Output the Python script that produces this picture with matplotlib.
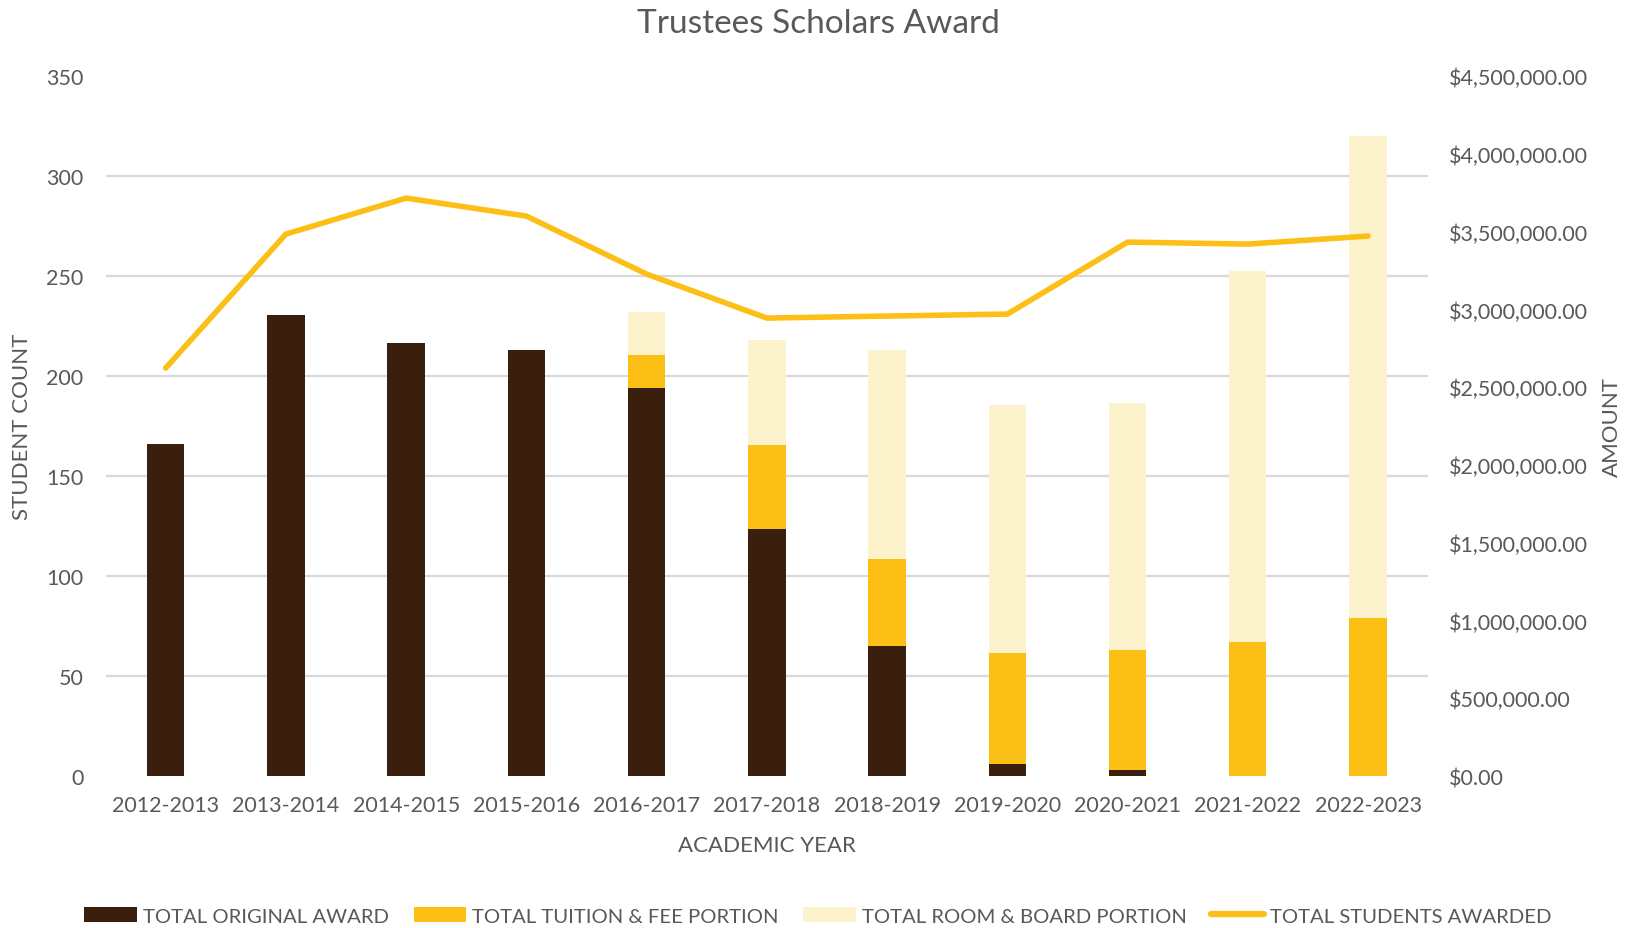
import matplotlib

matplotlib.use('Agg')
import matplotlib.pyplot as plt  # noqa: E402
from matplotlib.ticker import FixedLocator, FuncFormatter, MultipleLocator  # noqa: E402
from matplotlib.lines import Line2D  # noqa: E402
from matplotlib.patches import Patch  # noqa: E402

plt.rcParams['font.family'] = ['Lato', 'DejaVu Sans']

years = ['2012-2013', '2013-2014', '2014-2015', '2015-2016', '2016-2017', '2017-2018',
         '2018-2019', '2019-2020', '2020-2021', '2021-2022', '2022-2023']
original_award = [2132000, 2966000, 2782000, 2737000, 2494000, 1590000,
                  838000, 80000, 37000, 0, 0]
tuition_fee = [0, 0, 0, 0, 210000, 536000, 559000, 709000, 771000, 859000, 1014000]
room_board = [0, 0, 0, 0, 279000, 677000, 1339000, 1599000, 1588000, 2385000, 3099000]
students_awarded = [204, 271, 289, 280, 251, 229, 230, 231, 267, 266, 270]

DARK = '#3A1F0F'
GOLD = '#FBBF16'
PALE = '#FCF2CB'
TEXT = '#595959'
GRID = '#D9D9D9'

AMOUNT_MAX = 4500000
COUNT_MAX = 350
COUNT_STEP = 50

figure = plt.figure(figsize=(16.36, 9.29), dpi=100)
axis = figure.add_axes([0.0645, 0.1636, 0.8085, 0.7534])
positions = list(range(len(years)))
width = 0.31

bottom_tuition = original_award
bottom_room = [a + b for a, b in zip(original_award, tuition_fee)]
axis.bar(positions, original_award, width, color=DARK, zorder=2)
axis.bar(positions, tuition_fee, width, bottom=bottom_tuition, color=GOLD, zorder=2)
axis.bar(positions, room_board, width, bottom=bottom_room, color=PALE, zorder=2)
axis.set_ylim(0, AMOUNT_MAX)
axis.set_xlim(-0.5, len(years) - 0.5)
axis.yaxis.set_major_locator(MultipleLocator(500000))
axis.yaxis.set_major_formatter(FuncFormatter(lambda v, _: '${:,.2f}'.format(v)))

# gridlines follow the student-count ticks, but must sit behind the bars
grid_levels = [c * AMOUNT_MAX / COUNT_MAX for c in range(0, COUNT_MAX + 1, COUNT_STEP)]
axis.yaxis.set_minor_locator(FixedLocator(grid_levels))
axis.grid(axis='y', which='minor', color=GRID, linewidth=1.6, zorder=0)
axis.set_axisbelow(True)

# the line goes on a twin so it is drawn over the bars; swap the tick sides after
twin = axis.twinx()
twin.plot(positions, students_awarded, color=GOLD, linewidth=4,
          solid_capstyle='round', solid_joinstyle='round', zorder=3)
twin.set_ylim(0, COUNT_MAX)
twin.yaxis.set_major_locator(MultipleLocator(COUNT_STEP))

axis.yaxis.tick_right()
axis.yaxis.set_label_position('right')
twin.yaxis.tick_left()
twin.yaxis.set_label_position('left')
axis.set_ylabel('AMOUNT', color=TEXT, fontsize=16, labelpad=10)
twin.set_ylabel('STUDENT COUNT', color=TEXT, fontsize=16, labelpad=10)

for ax in (axis, twin):
    for spine in ax.spines.values():
        spine.set_visible(False)
    ax.tick_params(which='both', length=0, colors=TEXT, labelsize=15.5)

axis.tick_params(axis='y', pad=15)
twin.tick_params(axis='y', pad=16)
axis.set_xticks(positions, labels=years)
axis.tick_params(axis='x', pad=14)
axis.set_xlabel('ACADEMIC YEAR', color=TEXT, fontsize=16, labelpad=14)

figure.suptitle('Trustees Scholars Award', color=TEXT, fontsize=24, y=0.99)

handles = [
    Patch(facecolor=DARK, label='TOTAL ORIGINAL AWARD'),
    Patch(facecolor=GOLD, label='TOTAL TUITION & FEE PORTION'),
    Patch(facecolor=PALE, label='TOTAL ROOM & BOARD PORTION'),
    Line2D([0], [0], color=GOLD, linewidth=4.5, solid_capstyle='round',
           label='TOTAL STUDENTS AWARDED'),
]
legend = figure.legend(handles=handles, loc='center', bbox_to_anchor=(0.5, 0.013),
                       ncol=4, frameon=False, fontsize=14.6, handlelength=2.6,
                       handleheight=0.7, handletextpad=0.3, columnspacing=1.2)
for text in legend.get_texts():
    text.set_color(TEXT)

figure.savefig('out.png', dpi=100)
